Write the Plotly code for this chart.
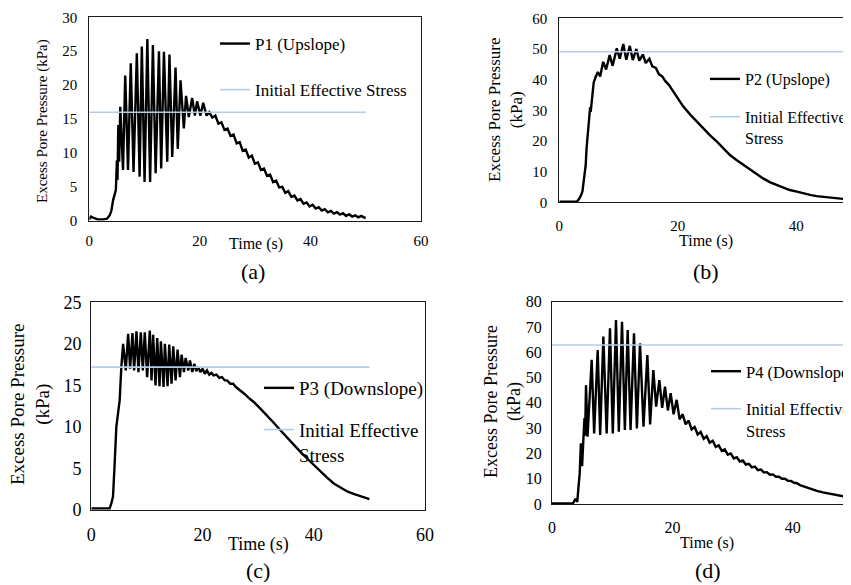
import plotly.graph_objects as go

W, H = 851, 585
OFF = 8  # page offset of the plot div (default body margin)
SERIF = "Liberation Serif, Times New Roman, serif"

# ---------------- data ----------------
# (a) P1 (Upslope)
t_a = [0, 0.3, 0.8, 1.5, 2.5, 3.2, 3.7, 4.0, 4.3, 4.6, 4.8, 5.0, 5.1, 5.25, 5.4, 5.6,
       6.1, 6.5, 7.0, 7.5, 8.0, 8.6, 9.1, 9.5, 10.0, 10.5, 11.0, 11.5, 12.0, 12.6, 13.0,
       13.5, 14.1, 14.5, 15.0, 15.6, 16.0, 16.5, 17.1, 17.5, 18.0, 18.6, 19.1, 19.5,
       20.1, 20.6, 21.2, 21.7, 22.25, 22.8, 23.35, 23.9, 24.45, 25.0, 25.55, 26.1,
       26.65, 27.2, 27.75, 28.3, 28.85, 29.4, 29.95, 30.5, 31.05, 31.6, 32.15, 32.7,
       33.25, 33.8, 34.35, 34.9, 35.45, 36.0, 36.55, 37.1, 37.65, 38.2, 38.75, 39.3,
       39.85, 40.4, 40.95, 41.5, 42.05, 42.6, 43.15, 43.7, 44.25, 44.8, 45.35, 45.9,
       46.45, 47.0, 47.55, 48.1, 48.65, 49.2, 49.75, 50.0]
p1 = [0.2, 0.6, 0.4, 0.2, 0.2, 0.3, 0.8, 1.5, 3.0, 4.2, 4.5, 8.9, 6.0, 14.1, 8.7, 16.8,
      7.5, 21.4, 7.5, 23.2, 7.2, 24.7, 6.5, 25.7, 5.7, 26.8, 5.7, 25.9, 7.0, 25.0, 7.7,
      24.9, 8.7, 24.5, 9.4, 22.6, 10.6, 20.7, 13.6, 18.4, 15.3, 18.1, 15.5, 17.6,
      15.5, 17.4, 15.5, 16.0, 15.2, 15.5, 14.3, 14.5, 13.4, 13.6, 12.5, 12.7,
      11.4, 11.6, 10.3, 10.5, 9.3, 9.6, 8.4, 8.6, 7.5, 7.7, 6.6, 6.8,
      5.7, 5.9, 4.9, 5.0, 4.1, 4.35, 3.5, 3.7, 3.0, 3.2, 2.5, 2.7,
      2.1, 2.35, 1.8, 2.0, 1.5, 1.7, 1.25, 1.45, 1.05, 1.25, 0.9, 1.1,
      0.7, 0.95, 0.6, 0.8, 0.5, 0.7, 0.45, 0.5]
ies_a = 16.0

# (b) P2 (Upslope)
t_b = [0, 1, 2, 3.0, 3.3, 3.6, 3.9, 4.1, 4.3, 4.45, 4.6, 4.9, 5.1, 5.2, 5.3, 5.5, 5.8,
       6.1, 6.5, 6.9, 7.4, 7.9, 8.5, 9.0, 9.7, 10.2, 10.8, 11.3, 11.9, 12.4, 13.0, 13.5,
       14.1, 14.6, 15.2, 15.7, 16.3, 16.8, 17.4, 17.9, 18.5, 19.0, 19.8, 20.9, 22.1,
       23.2, 24.3, 25.4, 26.6, 27.7, 28.8, 29.9, 31.1, 32.2, 33.3, 34.4, 35.6, 36.7,
       37.8, 38.9, 40.1, 41.2, 42.3, 43.4, 44.6, 45.7, 46.8, 47.9, 49.2, 50.0]
p2 = [0.2, 0.3, 0.3, 0.3, 1.0, 2.0, 3.5, 6.0, 10.0, 12.0, 17.6, 24.1, 28.5, 31.0, 29.5,
      33.0, 39.0, 40.7, 42.5, 41.0, 45.8, 43.3, 48.0, 44.5, 50.2, 46.8, 51.6, 46.5,
      51.0, 46.4, 50.0, 46.2, 48.2, 45.4, 46.8, 44.3, 43.8, 41.8, 41.0, 39.5, 38.3,
      36.8, 34.4, 31.3, 28.6, 26.3, 24.1, 21.9, 19.8, 17.6, 15.4, 13.8, 12.2, 10.5,
      9.2, 7.8, 6.5, 5.6, 4.8, 4.0, 3.5, 2.9, 2.4, 2.0, 1.8, 1.5, 1.3, 1.1, 0.8, 0.7]
ies_b = 49.1

# (c) P3 (Downslope)
t_c = [0, 1, 2, 3.0, 3.3, 3.6, 3.9, 4.2, 4.5, 4.8, 5.1, 5.4, 5.72, 6.20, 6.62, 6.98,
       7.40, 7.70, 8.12, 8.48, 8.90, 9.26, 9.62, 10.04, 10.52, 10.83, 11.12, 11.55,
       11.85, 12.27, 12.51, 12.99, 13.23, 13.71, 14.01, 14.43, 14.73, 15.15, 15.51,
       15.94, 16.24, 16.66, 16.96, 17.44, 17.74, 18.16, 18.52, 18.88, 19.24, 19.61,
       20.03, 20.4, 20.8, 21.2, 21.6, 22.0, 22.5, 23.0, 23.5, 24.0, 24.4, 25.0, 25.5,
       26.0, 26.8, 27.5, 28.3, 29.2, 30.4, 31.6, 32.8, 34.0, 35.2, 36.4, 37.6, 38.8,
       40.0, 41.2, 42.4, 43.6, 44.8, 46.1, 47.3, 48.5, 50.0]
p3 = [0.2, 0.2, 0.2, 0.2, 0.2, 0.8, 1.6, 5.6, 10.0, 11.6, 13.2, 17.2, 20.0, 16.8, 21.2,
      17.0, 21.3, 16.8, 21.5, 16.6, 21.4, 16.8, 21.4, 16.0, 21.6, 15.6, 21.1, 15.0,
      20.7, 14.9, 20.3, 14.8, 20.0, 14.9, 19.9, 15.2, 19.7, 15.6, 19.3,
      16.0, 18.7, 16.6, 18.3, 16.8, 18.0, 16.6, 17.6, 16.7, 17.2, 16.6,
      17.0, 16.4, 16.8, 16.3, 16.5, 16.2, 16.3, 15.9, 16.0, 15.6, 15.6, 15.2, 15.2,
      14.8, 14.4, 14.0, 13.5, 13.0, 12.2, 11.4, 10.5, 9.6, 8.7, 7.9, 7.0, 6.2,
      5.4, 4.6, 3.9, 3.2, 2.7, 2.2, 1.9, 1.6, 1.3]
ies_c = 17.2

# (d) P4 (Downslope)
t_d = [0, 1, 2, 3, 3.5, 3.9, 4.2, 4.4, 4.6, 4.8, 5.0, 5.2, 5.4, 5.5, 5.65, 5.9, 6.1,
       6.59, 7.0, 7.59, 8.0, 8.53, 9.08, 9.63, 10.1, 10.63, 11.1, 11.63, 12.1, 12.57,
       13.05, 13.62, 14.1, 14.62, 15.2, 15.84, 16.3, 16.83, 17.3, 17.83, 18.3, 18.77,
       19.25, 19.71, 20.2, 20.71, 21.2, 21.7, 22.2, 22.7, 23.2, 23.7, 24.2, 24.7, 25.2,
       25.7, 26.2, 26.7, 27.2, 27.7, 28.2, 28.7, 29.2, 29.7, 30.2, 30.7, 31.2, 31.7,
       32.2, 32.7, 33.2, 33.7, 34.2, 34.7, 35.2, 35.7, 36.2, 36.7, 37.2, 37.7, 38.2,
       38.7, 39.2, 39.7, 40.2, 40.7, 41.2, 42, 43, 44, 45, 46, 47, 48, 49, 50]
p4 = [0.2, 0.2, 0.2, 0.2, 0.3, 2.0, 0.8, 6.8, 12.0, 24.0, 15.0, 25.0, 34.0, 27.0, 47.0,
      26.6, 37.0, 57.0, 27.9, 60.9, 27.3, 66.2, 27.9, 69.5, 27.9, 72.8, 28.6, 72.1,
      29.3, 68.8, 29.3, 67.5, 29.9, 63.5, 30.6, 58.9, 31.5, 53.0, 38.5, 49.0, 38.0,
      46.4, 37.0, 43.8, 35.5, 41.2, 33.5, 35.5, 31.5, 33.0, 29.5, 30.5, 27.5, 28.5,
      25.8, 26.8, 24.2, 25.0, 22.6, 23.2, 21.0, 21.6, 19.5, 20.0, 18.0, 18.5, 16.8,
      17.2, 15.6, 15.9, 14.5, 14.8, 13.4, 13.6, 12.5, 12.6, 11.6, 11.7, 10.8, 10.8,
      10.0, 10.0, 9.2, 9.1, 8.4, 8.2, 7.5, 6.8, 5.9, 5.2, 4.6, 4.1, 3.6, 3.2, 2.8, 2.3]
ies_d = 62.9

ies_t = [0, 50]


def fx(px):
    return (px - OFF) / W


def fy(py):
    return 1 - (py - OFF) / H


panels = [
    dict(t=t_a, p=p1, ies=ies_a, name="P1 (Upslope)", ies_name="Initial Effective Stress",
         xd=(89.3, 421.0), yd=(17.3, 220.7), xr=[0, 60], yr=[0, 30], dy=5, box=True,
         tick=15, xs=6, ys=8, leg=(207, 18), lsize=17, lgap=21),
    dict(t=t_b, p=p2, ies=ies_b, name="P2 (Upslope)", ies_name="Initial Effective<br>Stress",
         xd=(559.3, W + OFF), yd=(18.3, 202.3), xr=[0, 50.58], yr=[0, 60], dy=10, box=False,
         tick=15, xs=10, ys=8, leg=(697, 54), lsize=16, lgap=14),
    dict(t=t_c, p=p3, ies=ies_c, name="P3 (Downslope)", ies_name="Initial Effective<br>Stress",
         xd=(91.3, 425.0), yd=(302.3, 510.0), xr=[0, 60], yr=[0, 25], dy=5, box=True,
         tick=18, xs=8, ys=5, leg=(251, 361), lsize=19, lgap=14),
    dict(t=t_d, p=p4, ies=ies_d, name="P4 (Downslope)", ies_name="Initial Effective<br>Stress",
         xd=(552.0, W + OFF), yd=(301.7, 504.0), xr=[0, 51.0], yr=[0, 80], dy=10, box=False,
         tick=16, xs=9, ys=6, leg=(698, 346), lsize=16.5, lgap=13),
]

fig = go.Figure()
layout = dict(width=W, height=H, margin=dict(l=0, r=0, t=0, b=0, autoexpand=False),
              paper_bgcolor="white", plot_bgcolor="white", showlegend=True,
              font=dict(family=SERIF, color="#000"))

for i, pn in enumerate(panels):
    k = "" if i == 0 else str(i + 1)
    lg = "legend" if i == 0 else "legend%d" % (i + 1)
    fig.add_trace(go.Scatter(x=pn["t"], y=pn["p"], mode="lines", name=pn["name"],
                             line=dict(color="black", width=2.4), xaxis="x" + k, yaxis="y" + k,
                             legend=lg, legendgroup="g%da" % i))
    fig.add_trace(go.Scatter(x=ies_t, y=[pn["ies"], pn["ies"]], mode="lines",
                             name=pn["ies_name"], line=dict(color="#b3cde8", width=1.6),
                             xaxis="x" + k, yaxis="y" + k, legend=lg, legendgroup="g%db" % i))
    x0, x1 = pn["xd"]
    yt, yb = pn["yd"]
    axcommon = dict(showgrid=False, zeroline=False, ticks="", showline=True,
                    linecolor="#1a1a1a", linewidth=1.3,
                    tickfont=dict(family=SERIF, size=pn["tick"], color="#000"))
    layout["xaxis" + k] = dict(domain=[fx(x0), min(1.0, fx(x1))], range=pn["xr"], dtick=20,
                               tick0=0, anchor="y" + k, mirror=True,
                               ticklabelstandoff=pn["xs"], **axcommon)
    layout["yaxis" + k] = dict(domain=[fy(yb), fy(yt)], range=pn["yr"], dtick=pn["dy"],
                               tick0=0, anchor="x" + k, mirror=pn["box"],
                               ticklabelstandoff=pn["ys"], **axcommon)
    lx, ly = pn["leg"]
    layout[lg] = dict(x=lx / W, y=1 - ly / H, xanchor="left", yanchor="top",
                      bgcolor="rgba(0,0,0,0)",
                      font=dict(family=SERIF, size=pn["lsize"], color="#000"),
                      tracegroupgap=pn["lgap"], valign="top", itemwidth=30)

fig.update_layout(**layout)


def ann(text, x, y, size, angle=0):
    fig.add_annotation(text=text, x=fx(x), y=fy(y), xref="paper", yref="paper",
                       xanchor="center", yanchor="middle", showarrow=False, textangle=angle,
                       font=dict(family=SERIF, size=size, color="#000"))


# axis titles
ann("Excess Pore Pressure (kPa)", 43, 121, 15, -90)
ann("Excess Pore Pressure<br>(kPa)", 505, 110, 17, -90)
ann("Excess Pore Pressure<br>(kPa)", 30, 405, 19, -90)
ann("Excess Pore Pressure<br>(kPa)", 503, 402, 18, -90)
ann("Time (s)", 256, 244, 16)
ann("Time (s)", 706, 241, 16)
ann("Time (s)", 258, 544, 18)
ann("Time (s)", 707, 543, 16)
# panel labels
ann("(a)", 253, 272, 22)
ann("(b)", 706, 272, 22)
ann("(c)", 258, 570, 22)
ann("(d)", 708, 570, 22)

fig.write_html("out.html")
